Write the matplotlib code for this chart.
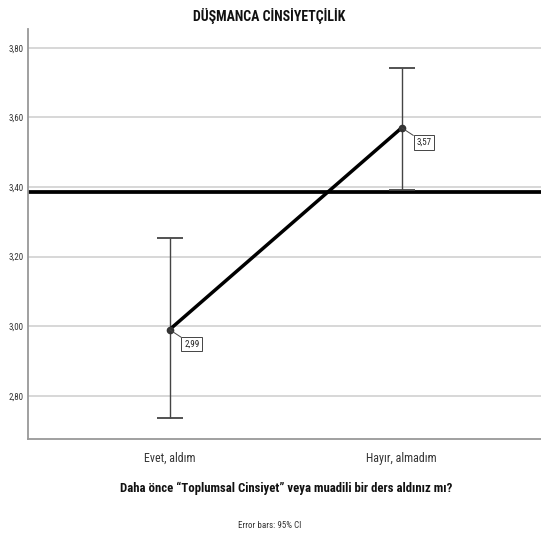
import matplotlib
matplotlib.use("Agg")
import matplotlib.pyplot as plt
from matplotlib import font_manager

fl = font_manager.fontManager.ttflist
names = {f.name for f in fl}
family = None
for cand in ['Liberation Sans Narrow', 'Arial Narrow', 'Roboto Condensed', 'Open Sans Condensed',
             'Noto Sans Condensed', 'DejaVu Sans Condensed']:
    if cand in names:
        family = cand
        break
stretch = 'normal'
if family is None:
    cond = [f for f in fl if f.stretch in ('condensed', 'semi-condensed', 'extra-condensed', 300, 200, 100)]
    if cond:
        family = cond[0].name
        stretch = cond[0].stretch
    else:
        family = 'Liberation Sans'
plt.rcParams['font.family'] = [family, 'DejaVu Sans']
plt.rcParams['font.stretch'] = stretch

categories = ["Evet, aldım", "Hayır, almadım"]
means = [2.99, 3.57]
ci_low = [2.735, 3.39]
ci_high = [3.254, 3.742]
ref_value = 3.385
yticks = [2.80, 3.00, 3.20, 3.40, 3.60, 3.80]
ytick_labels = ["2,80", "3,00", "3,20", "3,40", "3,60", "3,80"]
point_labels = ["2,99", "3,57"]

fig = plt.figure(figsize=(5.41, 5.37), dpi=100)
ax = fig.add_axes([0.0512, 0.182, 0.9488, 0.7647])

x = list(range(len(categories)))
ax.set_xlim(-0.611, 1.60)
ax.set_ylim(2.675, 3.855)

for yt in yticks:
    ax.axhline(yt, color='#d4d4d4', lw=1.3, zorder=0)

ax.axhline(ref_value, color='black', lw=2.7, zorder=2)

yerr = [[m - l for m, l in zip(means, ci_low)], [h - m for m, h in zip(means, ci_high)]]
ax.errorbar(x, means, yerr=yerr, fmt='none', ecolor='#444444', elinewidth=1.0,
            capsize=9.4, capthick=1.3, zorder=3)
ax.plot(x, means, color='black', lw=2.5, zorder=4)
ax.plot(x, means, 'o', color='#333333', ms=4.5, zorder=5)

for xi, m, lab in zip(x, means, point_labels):
    ax.annotate(lab, xy=(xi, m), xytext=(16, -10.5), textcoords='offset points',
                fontsize=6.5, ha='center', va='center', color='#222222',
                bbox=dict(boxstyle='square,pad=0.3', fc='white', ec='#444444', lw=0.7),
                arrowprops=dict(arrowstyle='-', color='#444444', lw=0.7,
                                shrinkA=0, shrinkB=0),
                zorder=6)

ax.set_yticks(yticks)
ax.set_yticklabels(ytick_labels, fontsize=6.5, color='#333333')
ax.set_xticks(x)
ax.set_xticklabels(categories, fontsize=8.6, color='#333333')
ax.tick_params(axis='both', length=0)
ax.tick_params(axis='y', pad=3)
ax.tick_params(axis='x', pad=9)

for s in ['top', 'right']:
    ax.spines[s].set_visible(False)
for s in ['left', 'bottom']:
    ax.spines[s].set_color('#999999')
    ax.spines[s].set_linewidth(1.3)

fig.text(269 / 541, 1 - 15.5 / 537, "DÜŞMANCA CİNSİYETÇİLİK", ha='center', va='center',
         fontsize=10, fontweight='bold', color='#111111')
fig.text(286 / 541, 1 - 488 / 537, "Daha önce \u201cToplumsal Cinsiyet\u201d veya muadili bir ders aldınız mı?",
         ha='center', va='center', fontsize=9.2, fontweight='bold', color='#111111')
fig.text(270 / 541, 1 - 525 / 537, "Error bars: 95% CI", ha='center', va='center',
         fontsize=6.5, color='#333333')

fig.savefig("out.png", dpi=100)
